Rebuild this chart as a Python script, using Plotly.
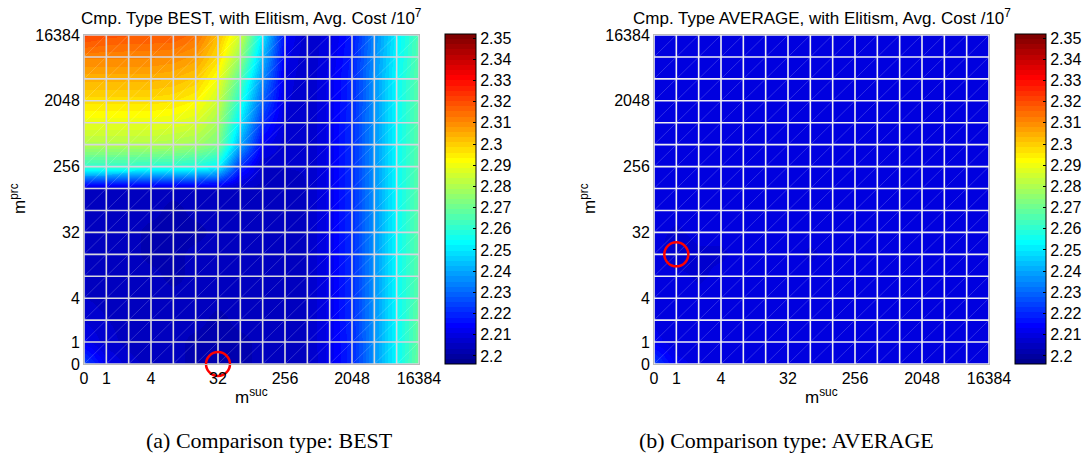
import numpy as np
import plotly.graph_objects as go

# ---------------- data ----------------
levels = [0, 1, 2, 4, 8, 16, 32, 64, 128, 256, 512, 1024, 2048, 4096, 8192, 16384]
tick_levels = [0, 1, 4, 32, 256, 2048, 16384]
tick_labels = ["0", "1", "4", "32", "256", "2048", "16384"]

cbar_ticks = [2.20, 2.21, 2.22, 2.23, 2.24, 2.25, 2.26, 2.27, 2.28, 2.29, 2.30,
              2.31, 2.32, 2.33, 2.34, 2.35]
cbar_labels = ["2.2", "2.21", "2.22", "2.23", "2.24", "2.25", "2.26", "2.27", "2.28",
               "2.29", "2.3", "2.31", "2.32", "2.33", "2.34", "2.35"]
c_min, c_max = 2.1962, 2.3519

# rows: m_prc level index 0..15 (bottom -> top); columns: m_suc level index 0..15
z_best = [
    [2.225, 2.212, 2.207, 2.205, 2.204, 2.203, 2.202, 2.203, 2.204, 2.204, 2.205, 2.212, 2.220, 2.237, 2.254, 2.270],
    [2.212, 2.207, 2.205, 2.204, 2.204, 2.203, 2.203, 2.203, 2.204, 2.205, 2.206, 2.212, 2.220, 2.237, 2.254, 2.269],
    [2.208, 2.206, 2.205, 2.205, 2.204, 2.204, 2.203, 2.204, 2.204, 2.205, 2.206, 2.212, 2.221, 2.237, 2.254, 2.269],
    [2.206, 2.205, 2.205, 2.204, 2.204, 2.204, 2.204, 2.204, 2.205, 2.205, 2.206, 2.212, 2.221, 2.237, 2.254, 2.268],
    [2.206, 2.205, 2.204, 2.204, 2.203, 2.204, 2.204, 2.204, 2.205, 2.205, 2.206, 2.212, 2.221, 2.237, 2.254, 2.268],
    [2.206, 2.205, 2.204, 2.203, 2.203, 2.204, 2.204, 2.204, 2.205, 2.205, 2.206, 2.212, 2.221, 2.237, 2.254, 2.268],
    [2.206, 2.205, 2.204, 2.203, 2.203, 2.203, 2.204, 2.204, 2.205, 2.205, 2.206, 2.212, 2.221, 2.237, 2.254, 2.268],
    [2.206, 2.205, 2.204, 2.204, 2.203, 2.204, 2.204, 2.204, 2.205, 2.205, 2.206, 2.212, 2.221, 2.237, 2.254, 2.268],
    [2.205, 2.205, 2.204, 2.204, 2.204, 2.204, 2.205, 2.205, 2.205, 2.205, 2.206, 2.212, 2.221, 2.237, 2.254, 2.268],
    [2.260, 2.260, 2.260, 2.259, 2.259, 2.257, 2.252, 2.220, 2.206, 2.206, 2.206, 2.212, 2.221, 2.237, 2.254, 2.268],
    [2.280, 2.280, 2.280, 2.280, 2.279, 2.277, 2.272, 2.240, 2.212, 2.207, 2.206, 2.212, 2.221, 2.237, 2.254, 2.268],
    [2.289, 2.289, 2.289, 2.289, 2.288, 2.286, 2.278, 2.250, 2.220, 2.208, 2.206, 2.212, 2.221, 2.237, 2.254, 2.268],
    [2.297, 2.297, 2.297, 2.297, 2.296, 2.293, 2.284, 2.258, 2.228, 2.209, 2.206, 2.212, 2.220, 2.237, 2.254, 2.268],
    [2.304, 2.304, 2.304, 2.304, 2.303, 2.300, 2.290, 2.266, 2.235, 2.210, 2.206, 2.212, 2.220, 2.237, 2.254, 2.268],
    [2.311, 2.311, 2.311, 2.311, 2.310, 2.307, 2.297, 2.276, 2.242, 2.212, 2.206, 2.211, 2.219, 2.236, 2.253, 2.267],
    [2.321, 2.319, 2.318, 2.318, 2.318, 2.314, 2.302, 2.285, 2.250, 2.215, 2.206, 2.210, 2.218, 2.235, 2.252, 2.266],
]

z_avg = [
    [2.224, 2.212, 2.210, 2.209, 2.209, 2.209, 2.209, 2.209, 2.209, 2.209, 2.209, 2.209, 2.209, 2.209, 2.209, 2.210],
    [2.212, 2.209, 2.209, 2.209, 2.210, 2.209, 2.209, 2.210, 2.209, 2.209, 2.209, 2.210, 2.209, 2.209, 2.209, 2.209],
    [2.210, 2.209, 2.209, 2.209, 2.209, 2.209, 2.209, 2.209, 2.210, 2.209, 2.209, 2.209, 2.209, 2.209, 2.210, 2.209],
    [2.209, 2.209, 2.209, 2.210, 2.209, 2.209, 2.210, 2.209, 2.209, 2.209, 2.210, 2.209, 2.209, 2.209, 2.209, 2.209],
    [2.209, 2.209, 2.208, 2.209, 2.209, 2.210, 2.209, 2.209, 2.209, 2.209, 2.209, 2.209, 2.210, 2.209, 2.209, 2.209],
    [2.209, 2.207, 2.208, 2.208, 2.209, 2.209, 2.209, 2.208, 2.209, 2.209, 2.209, 2.209, 2.209, 2.209, 2.209, 2.209],
    [2.209, 2.208, 2.209, 2.209, 2.209, 2.209, 2.209, 2.209, 2.209, 2.210, 2.209, 2.209, 2.209, 2.209, 2.209, 2.209],
    [2.209, 2.209, 2.209, 2.209, 2.209, 2.209, 2.210, 2.209, 2.209, 2.209, 2.209, 2.210, 2.209, 2.209, 2.209, 2.209],
    [2.209, 2.209, 2.209, 2.210, 2.209, 2.209, 2.209, 2.209, 2.209, 2.209, 2.209, 2.209, 2.209, 2.210, 2.209, 2.209],
    [2.209, 2.209, 2.209, 2.209, 2.209, 2.209, 2.209, 2.209, 2.210, 2.209, 2.209, 2.209, 2.209, 2.209, 2.209, 2.209],
    [2.209, 2.210, 2.209, 2.209, 2.209, 2.210, 2.209, 2.209, 2.209, 2.209, 2.210, 2.209, 2.209, 2.209, 2.209, 2.209],
    [2.209, 2.209, 2.209, 2.209, 2.209, 2.209, 2.209, 2.210, 2.209, 2.209, 2.209, 2.209, 2.210, 2.209, 2.209, 2.209],
    [2.209, 2.209, 2.210, 2.209, 2.209, 2.209, 2.209, 2.209, 2.209, 2.209, 2.209, 2.209, 2.209, 2.209, 2.209, 2.209],
    [2.209, 2.209, 2.209, 2.209, 2.210, 2.209, 2.209, 2.209, 2.209, 2.210, 2.209, 2.209, 2.209, 2.209, 2.210, 2.209],
    [2.209, 2.209, 2.209, 2.209, 2.209, 2.209, 2.210, 2.209, 2.209, 2.209, 2.209, 2.209, 2.209, 2.209, 2.209, 2.209],
    [2.210, 2.209, 2.209, 2.209, 2.209, 2.209, 2.209, 2.209, 2.209, 2.209, 2.209, 2.209, 2.209, 2.209, 2.209, 2.210],
]

best_point_best = (32, 0)     # (m_suc, m_prc) of minimum, comparison BEST
best_point_avg = (1, 16)      # (m_suc, m_prc) of minimum, comparison AVERAGE

titles = ["Cmp. Type BEST, with Elitism, Avg. Cost /10<sup>7</sup>",
          "Cmp. Type AVERAGE, with Elitism, Avg. Cost /10<sup>7</sup>"]
captions = ["(a) Comparison type: BEST", "(b) Comparison type: AVERAGE"]


# ---------------- colormap (MATLAB jet, 64 levels) ----------------
def jet(m=64):
    n = int(np.ceil(m / 4))
    u = np.concatenate([np.arange(1, n + 1) / n, np.ones(n - 1), np.arange(n, 0, -1) / n])
    g = int(np.ceil(n / 2)) - (1 if m % 4 == 1 else 0) + np.arange(1, len(u) + 1)
    r = g + n
    b = g - n
    J = np.zeros((m, 3))
    mk = r <= m
    J[r[mk] - 1, 0] = u[mk]
    mk = g <= m
    J[g[mk] - 1, 1] = u[mk]
    mk = b >= 1
    J[b[mk] - 1, 2] = u[mk]
    return J


J = jet(64)
colorscale = []
for i, (rr, gg, bb) in enumerate(J):
    col = f"rgb({int(round(rr*255))},{int(round(gg*255))},{int(round(bb*255))})"
    colorscale.append([i / 64, col])
    colorscale.append([(i + 1) / 64, col])

# ---------------- layout geometry ----------------
W, H = 1085, 468
FONT = "Liberation Sans, Arial, sans-serif"
idx = list(range(len(levels)))
nmax = len(levels) - 1
tickvals = [levels.index(v) for v in tick_levels]

panels = [
    dict(z=z_best, best=best_point_best, x0=84, x1=419, cbx=445, grid="#D6D6DE"),
    dict(z=z_avg, best=best_point_avg, x0=654, x1=989, cbx=1015, grid="#ECECF2"),
]
y_top, y_bot = 35, 364

fig = go.Figure()

# grid lines and diagonal lines from index positions
gx, gy = [], []
for i in idx:
    gx += [i, i, None]
    gy += [0, nmax, None]
    gx += [0, nmax, None]
    gy += [i, i, None]
dx, dy = [], []
for k in range(-nmax + 1, nmax):
    dx += [max(k, 0), min(nmax, nmax + k), None]
    dy += [max(-k, 0), min(nmax, nmax - k), None]

annotations = []
for p, pan in enumerate(panels):
    xa = "x" if p == 0 else "x2"
    ya = "y" if p == 0 else "y2"
    fig.add_trace(go.Heatmap(
        z=pan["z"], x=idx, y=idx, zsmooth="best", colorscale=colorscale,
        zmin=c_min, zmax=c_max, xaxis=xa, yaxis=ya,
        colorbar=dict(
            x=pan["cbx"] / W, xanchor="left", xpad=0, ypad=0,
            y=(H - y_bot) / H, yanchor="bottom", len=(y_bot - y_top + 1) / H, lenmode="fraction",
            thickness=31, thicknessmode="pixels", outlinewidth=1, outlinecolor="black",
            tickvals=cbar_ticks, ticktext=cbar_labels, ticks="inside", ticklen=3,
            tickcolor="black", tickfont=dict(family=FONT, size=16, color="black"),
        ),
        hoverinfo="skip",
    ))
    fig.add_trace(go.Scatter(x=dx, y=dy, mode="lines", xaxis=xa, yaxis=ya,
                             line=dict(color="rgba(255,255,255,0.3)", width=0.6),
                             hoverinfo="skip", showlegend=False))
    fig.add_trace(go.Scatter(x=gx, y=gy, mode="lines", xaxis=xa, yaxis=ya,
                             line=dict(color=pan["grid"], width=1.6),
                             hoverinfo="skip", showlegend=False))
    bx, by = pan["best"]
    fig.add_trace(go.Scatter(x=[levels.index(bx)], y=[levels.index(by)], mode="markers",
                             xaxis=xa, yaxis=ya, cliponaxis=False,
                             marker=dict(symbol="circle-open", size=24,
                                         line=dict(color="red", width=2.5), color="red"),
                             hoverinfo="skip", showlegend=False))
    cx = (pan["x0"] + pan["x1"]) / 2
    annotations += [
        dict(text=titles[p], x=cx / W, y=1 - 17 / H, xref="paper", yref="paper",
             showarrow=False, xanchor="center", yanchor="middle",
             font=dict(family=FONT, size=17, color="black")),
        dict(text="m<sup>suc</sup>", x=cx / W, y=1 - 396 / H, xref="paper", yref="paper",
             showarrow=False, xanchor="center", yanchor="middle",
             font=dict(family=FONT, size=17, color="black")),
        dict(text="m<sup>prc</sup>", x=(pan["x0"] - 66) / W, y=1 - 199 / H, xref="paper",
             yref="paper", showarrow=False, xanchor="center", yanchor="middle", textangle=-90,
             font=dict(family=FONT, size=17, color="black")),
        dict(text=captions[p], x=(269 if p == 0 else 786) / W, y=1 - 440 / H, xref="paper",
             yref="paper", showarrow=False, xanchor="center", yanchor="middle",
             font=dict(family="Liberation Serif, serif", size=22, color="black")),
    ]

axis_common = dict(range=[0, nmax], tickvals=tickvals, ticktext=tick_labels, ticks="",
                   showgrid=False, zeroline=False, showline=True, linecolor="#BBBBBB",
                   linewidth=1, mirror=True, tickfont=dict(family=FONT, size=16, color="black"),
                   fixedrange=True, automargin=False)

fig.update_layout(
    width=W, height=H, margin=dict(l=0, r=0, t=0, b=0, pad=0, autoexpand=False),
    paper_bgcolor="white", plot_bgcolor="white", showlegend=False,
    xaxis=dict(domain=[panels[0]["x0"] / W, panels[0]["x1"] / W], anchor="y", **axis_common),
    yaxis=dict(domain=[(H - y_bot) / H, (H - y_top) / H], anchor="x", **axis_common),
    xaxis2=dict(domain=[panels[1]["x0"] / W, panels[1]["x1"] / W], anchor="y2", **axis_common),
    yaxis2=dict(domain=[(H - y_bot) / H, (H - y_top) / H], anchor="x2", **axis_common),
    annotations=annotations,
)

fig.write_html("out.html")
